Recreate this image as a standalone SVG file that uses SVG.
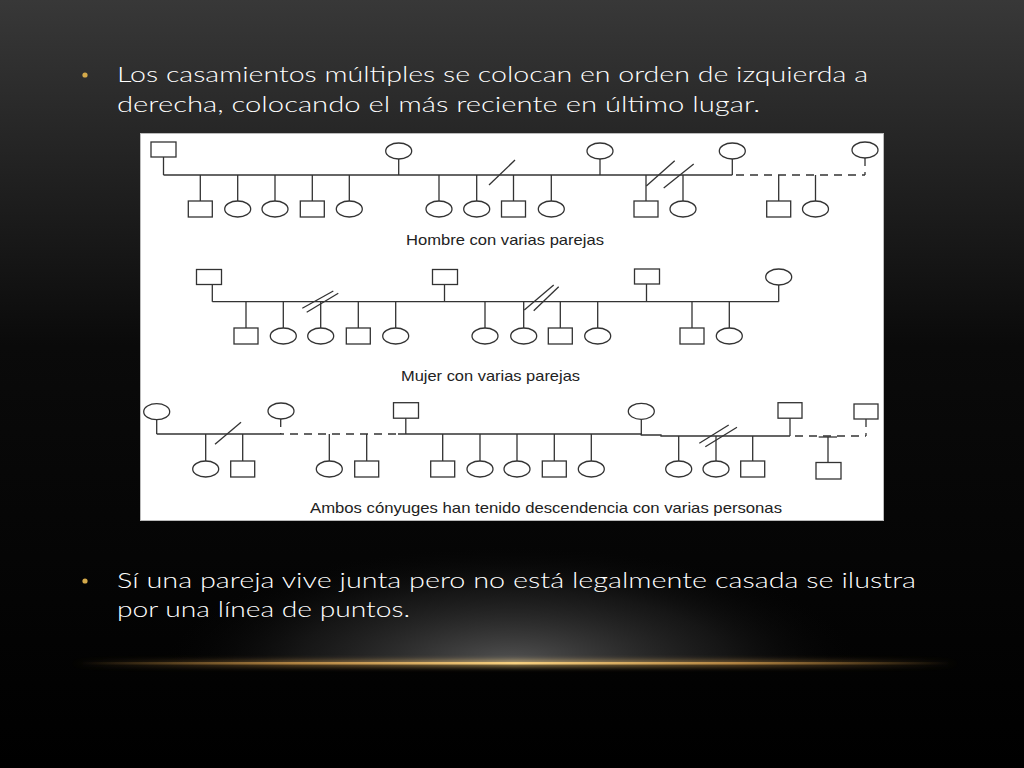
<svg xmlns="http://www.w3.org/2000/svg" width="1024" height="768" viewBox="0 0 1024 768">
<defs>
<linearGradient id="bg" x1="0" y1="0" x2="0" y2="1">
<stop offset="0" stop-color="#383838"/>
<stop offset="0.45" stop-color="#0a0a0a"/>
<stop offset="1" stop-color="#000"/>
</linearGradient>
<radialGradient id="glow" cx="512" cy="665" r="360" gradientUnits="userSpaceOnUse" gradientTransform="translate(0,665) scale(1,0.35) translate(0,-665)">
<stop offset="0" stop-color="#555"/>
<stop offset="0.6" stop-color="#222" stop-opacity="0.6"/>
<stop offset="1" stop-color="#000" stop-opacity="0"/>
</radialGradient>
<linearGradient id="gold" x1="0" y1="0" x2="1" y2="0">
<stop offset="0" stop-color="#c89040" stop-opacity="0"/>
<stop offset="0.25" stop-color="#d8a050" stop-opacity="0.7"/>
<stop offset="0.5" stop-color="#f6d080"/>
<stop offset="0.75" stop-color="#d8a050" stop-opacity="0.7"/>
<stop offset="1" stop-color="#c89040" stop-opacity="0"/>
</linearGradient>
<filter id="blur" x="-10%" y="-300%" width="120%" height="700%"><feGaussianBlur stdDeviation="2.5"/></filter>
</defs>
<style>
.ln{stroke:#333;stroke-width:1.3;fill:none}
.dl{stroke:#333;stroke-width:1.3;fill:none;stroke-dasharray:8 6}
.sh{fill:#fff;stroke:#333;stroke-width:1.3}
.slide{font-family:"Century Gothic","Lato","Liberation Sans",sans-serif;font-size:22px;font-weight:300;fill:#fff}
.bul{fill:#d4a94a}
.lab{font-family:"Liberation Sans",Arial,sans-serif;font-size:15px;fill:#222}
</style>
<rect x="0" y="0" width="1024" height="768" fill="url(#bg)"/>
<rect x="0" y="480" width="1024" height="183" fill="url(#glow)"/>
<rect x="70" y="660" width="890" height="7" fill="url(#gold)" opacity="0.6" filter="url(#blur)"/>
<rect x="80" y="662" width="870" height="2.5" fill="url(#gold)"/>

<g id="text-top">
<circle class="bul" cx="85" cy="75" r="2.6"/>
<text class="slide" x="117" y="82" textLength="751" lengthAdjust="spacingAndGlyphs">Los casamientos múltiples se colocan en orden de izquierda a</text>
<text class="slide" x="117" y="112" textLength="643" lengthAdjust="spacingAndGlyphs">derecha, colocando el más reciente en último lugar.</text>
</g>
<g id="text-bottom">
<circle class="bul" cx="85" cy="581" r="2.6"/>
<text class="slide" x="117" y="588" textLength="799" lengthAdjust="spacingAndGlyphs">Sí una pareja vive junta pero no está legalmente casada se ilustra</text>
<text class="slide" x="117" y="617" textLength="293" lengthAdjust="spacingAndGlyphs">por una línea de puntos.</text>
</g>

<rect id="panel" x="140.5" y="133.5" width="743" height="387" fill="#fff" stroke="#bbb" stroke-width="1"/>

<g id="connectors">
<!-- Row 1 -->
<line class="ln" x1="163.5" y1="157" x2="163.5" y2="175"/>
<line class="ln" x1="398.7" y1="159" x2="398.7" y2="175"/>
<line class="ln" x1="600" y1="159" x2="600" y2="175"/>
<line class="ln" x1="732.3" y1="159" x2="732.3" y2="175"/>
<line class="ln" x1="163.5" y1="175" x2="732.3" y2="175"/>
<line class="dl" x1="736" y1="175" x2="865" y2="175"/>
<line class="dl" x1="865" y1="158" x2="865" y2="175" stroke-dasharray="5 4"/>
<line class="ln" x1="489" y1="185" x2="515" y2="160"/>
<line class="ln" x1="646.3" y1="186" x2="674.7" y2="160.7"/>
<line class="ln" x1="663.7" y1="188" x2="693.7" y2="164"/>
<path class="ln" d="M200.3 175V201M237.7 175V201M275 175V201M312.3 175V201M349.3 175V201M439 175V201M476.7 175V201M513.5 175V201M551.3 175V201M646 175V201M683 175V201M778.7 175V201M815.5 175V201"/>
<!-- Row 2 -->
<line class="ln" x1="212.3" y1="284.5" x2="212.3" y2="301.7"/>
<line class="ln" x1="444.5" y1="284.5" x2="444.5" y2="301.7"/>
<line class="ln" x1="646.5" y1="284" x2="646.5" y2="301.7"/>
<line class="ln" x1="778.7" y1="285" x2="778.7" y2="301.7"/>
<line class="ln" x1="212.3" y1="301.7" x2="778.7" y2="301.7"/>
<line class="ln" x1="302.3" y1="308.3" x2="333.3" y2="291"/>
<line class="ln" x1="306.7" y1="312.3" x2="338.3" y2="293.3"/>
<line class="ln" x1="524.3" y1="310" x2="553.7" y2="285"/>
<line class="ln" x1="533.7" y1="310.7" x2="558.7" y2="286.7"/>
<path class="ln" d="M246 301.7V328M283.3 301.7V328M320.7 301.7V328M358.3 301.7V328M395.7 301.7V328M485 301.7V328M523.7 301.7V328M560.3 301.7V328M597.7 301.7V328M692 301.7V328M729.3 301.7V328"/>
<!-- Row 3 -->
<line class="ln" x1="156.7" y1="419.7" x2="156.7" y2="434"/>
<line class="dl" x1="280.7" y1="419" x2="280.7" y2="434" stroke-dasharray="3 4"/>
<line class="ln" x1="405.8" y1="418" x2="405.8" y2="434"/>
<line class="ln" x1="641.3" y1="419.3" x2="641.3" y2="435"/>
<line class="ln" x1="790" y1="418" x2="790" y2="436"/>
<line class="dl" x1="866" y1="419" x2="866" y2="436" stroke-dasharray="5 4"/>
<line class="ln" x1="156.7" y1="434" x2="284" y2="434"/>
<line class="dl" x1="290" y1="434" x2="398" y2="434" stroke-dasharray="8 9"/>
<path class="ln" d="M398 434H641.3V435H661V436H790"/>
<line class="dl" x1="795" y1="436" x2="866" y2="436" stroke-dasharray="8 8"/>
<line class="ln" x1="818.7" y1="437" x2="837" y2="437"/>
<line class="ln" x1="215" y1="444.3" x2="241" y2="422.3"/>
<line class="ln" x1="699.3" y1="443.3" x2="728.7" y2="425"/>
<line class="ln" x1="705.3" y1="446.7" x2="737" y2="427.3"/>
<path class="ln" d="M205.7 434V461M242.7 434V461M329.3 434V461M366.7 434V461M442.7 434V461M480 434V461M517 434V461M554.3 434V461M591.3 434V461M678.7 436V461M716 436V461M752.7 436V461M828 437V462"/>
</g>

<!-- Row 1 nodes -->
<g id="r1-man"><rect class="sh" x="151" y="142" width="25" height="15"/></g>
<g id="r1-w1"><ellipse class="sh" cx="398.7" cy="151" rx="13" ry="8"/></g>
<g id="r1-w2"><ellipse class="sh" cx="600" cy="151" rx="13" ry="8"/></g>
<g id="r1-w3"><ellipse class="sh" cx="732.3" cy="151" rx="13" ry="8"/></g>
<g id="r1-w4"><ellipse class="sh" cx="865" cy="150" rx="13" ry="8"/></g>
<g id="r1-c1"><rect class="sh" x="188.3" y="201" width="24" height="16"/></g>
<g id="r1-c2"><ellipse class="sh" cx="237.7" cy="209" rx="13" ry="8"/></g>
<g id="r1-c3"><ellipse class="sh" cx="275" cy="209" rx="13" ry="8"/></g>
<g id="r1-c4"><rect class="sh" x="300.3" y="201" width="24" height="16"/></g>
<g id="r1-c5"><ellipse class="sh" cx="349.3" cy="209" rx="13" ry="8"/></g>
<g id="r1-c6"><ellipse class="sh" cx="439" cy="209" rx="13" ry="8"/></g>
<g id="r1-c7"><ellipse class="sh" cx="476.7" cy="209" rx="13" ry="8"/></g>
<g id="r1-c8"><rect class="sh" x="501.5" y="201" width="24" height="16"/></g>
<g id="r1-c9"><ellipse class="sh" cx="551.3" cy="209" rx="13" ry="8"/></g>
<g id="r1-c10"><rect class="sh" x="634" y="201" width="24" height="16"/></g>
<g id="r1-c11"><ellipse class="sh" cx="683" cy="209" rx="13" ry="8"/></g>
<g id="r1-c12"><rect class="sh" x="766.7" y="201" width="24" height="16"/></g>
<g id="r1-c13"><ellipse class="sh" cx="815.5" cy="209" rx="13" ry="8"/></g>
<g id="r1-label"><text class="lab" x="406" y="245" textLength="198" lengthAdjust="spacingAndGlyphs">Hombre con varias parejas</text></g>

<!-- Row 2 nodes -->
<g id="r2-m1"><rect class="sh" x="196.5" y="269.5" width="25" height="15"/></g>
<g id="r2-m2"><rect class="sh" x="432.5" y="269.5" width="25" height="15"/></g>
<g id="r2-m3"><rect class="sh" x="634.5" y="269" width="25" height="15"/></g>
<g id="r2-woman"><ellipse class="sh" cx="778.7" cy="277" rx="13" ry="8"/></g>
<g id="r2-c1"><rect class="sh" x="234" y="328" width="24" height="16"/></g>
<g id="r2-c2"><ellipse class="sh" cx="283.3" cy="336" rx="13" ry="8"/></g>
<g id="r2-c3"><ellipse class="sh" cx="320.7" cy="336" rx="13" ry="8"/></g>
<g id="r2-c4"><rect class="sh" x="346.3" y="328" width="24" height="16"/></g>
<g id="r2-c5"><ellipse class="sh" cx="395.7" cy="336" rx="13" ry="8"/></g>
<g id="r2-c6"><ellipse class="sh" cx="485" cy="336" rx="13" ry="8"/></g>
<g id="r2-c7"><ellipse class="sh" cx="523.7" cy="336" rx="13" ry="8"/></g>
<g id="r2-c8"><rect class="sh" x="548.3" y="328" width="24" height="16"/></g>
<g id="r2-c9"><ellipse class="sh" cx="597.7" cy="336" rx="13" ry="8"/></g>
<g id="r2-c10"><rect class="sh" x="680" y="328" width="24" height="16"/></g>
<g id="r2-c11"><ellipse class="sh" cx="729.3" cy="336" rx="13" ry="8"/></g>
<g id="r2-label"><text class="lab" x="401" y="381" textLength="179" lengthAdjust="spacingAndGlyphs">Mujer con varias parejas</text></g>

<!-- Row 3 nodes -->
<g id="r3-w1"><ellipse class="sh" cx="156.7" cy="411.7" rx="13" ry="8"/></g>
<g id="r3-w2"><ellipse class="sh" cx="281" cy="411" rx="13" ry="8"/></g>
<g id="r3-m1"><rect class="sh" x="393.5" y="402.7" width="25" height="15.5"/></g>
<g id="r3-w3"><ellipse class="sh" cx="641.3" cy="411.3" rx="13" ry="8"/></g>
<g id="r3-m2"><rect class="sh" x="778" y="402.7" width="24" height="15.5"/></g>
<g id="r3-m3"><rect class="sh" x="854" y="404" width="24" height="15"/></g>
<g id="r3-c1"><ellipse class="sh" cx="205.7" cy="469" rx="13" ry="8"/></g>
<g id="r3-c2"><rect class="sh" x="230.7" y="461" width="24" height="16"/></g>
<g id="r3-c3"><ellipse class="sh" cx="329.3" cy="469" rx="13" ry="8"/></g>
<g id="r3-c4"><rect class="sh" x="354.7" y="461" width="24" height="16"/></g>
<g id="r3-c5"><rect class="sh" x="430.7" y="461" width="24" height="16"/></g>
<g id="r3-c6"><ellipse class="sh" cx="480" cy="469" rx="13" ry="8"/></g>
<g id="r3-c7"><ellipse class="sh" cx="517" cy="469" rx="13" ry="8"/></g>
<g id="r3-c8"><rect class="sh" x="542.3" y="461" width="24" height="16"/></g>
<g id="r3-c9"><ellipse class="sh" cx="591.3" cy="469" rx="13" ry="8"/></g>
<g id="r3-c10"><ellipse class="sh" cx="678.7" cy="469" rx="13" ry="8"/></g>
<g id="r3-c11"><ellipse class="sh" cx="716" cy="469" rx="13" ry="8"/></g>
<g id="r3-c12"><rect class="sh" x="740.7" y="461" width="24" height="16"/></g>
<g id="r3-c13"><rect class="sh" x="816" y="462.5" width="25" height="16.5"/></g>
<g id="r3-label"><text class="lab" x="310" y="513" textLength="472" lengthAdjust="spacingAndGlyphs">Ambos cónyuges han tenido descendencia con varias personas</text></g>
</svg>
